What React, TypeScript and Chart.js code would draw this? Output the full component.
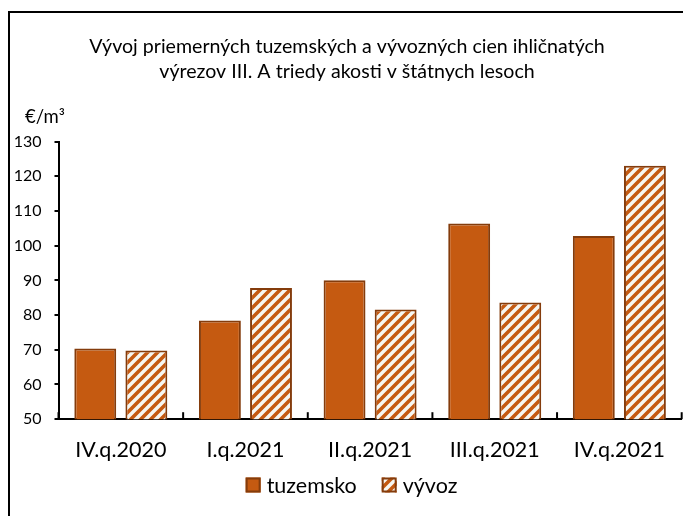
import React, { useEffect, useRef } from "react";
import { Chart, registerables } from "chart.js";

Chart.register(...registerables);

const categories = ["IV.q.2020", "I.q.2021", "II.q.2021", "III.q.2021", "IV.q.2021"];
const tuzemsko = [70.4, 78.4, 90.0, 106.4, 102.8];
const vyvoz = [69.8, 87.8, 81.6, 83.6, 123.0];
const titleLines = [
  "Vývoj priemerných tuzemských a vývozných cien ihličnatých",
  "výrezov III. A triedy akosti v štátnych lesoch",
];
const unitLabel = "€/m³";
const yMin = 50;
const yMax = 130;
const yStep = 10;

const FONT = "Lato, 'Open Sans', sans-serif";
const FILL = "#C55A11";
const EDGE = "#843C0C";

function makePattern(): CanvasPattern | string {
  const P = 10;
  const c = document.createElement("canvas");
  c.width = P;
  c.height = P;
  const g = c.getContext("2d");
  if (!g) return "#fff";
  g.fillStyle = "#F6F7F2";
  g.fillRect(0, 0, P, P);
  g.strokeStyle = FILL;
  g.lineWidth = 3.6;
  g.lineCap = "square";
  g.beginPath();
  g.moveTo(0, P);
  g.lineTo(P, 0);
  g.moveTo(-P / 2, P / 2);
  g.lineTo(P / 2, -P / 2);
  g.moveTo(P / 2, P * 1.5);
  g.lineTo(P * 1.5, P / 2);
  g.stroke();
  const pat = g.createPattern(c, "repeat");
  return pat || "#fff";
}

const extrasPlugin = {
  id: "extras",
  afterDraw(chart: any) {
    const { ctx, chartArea, scales } = chart;
    const x = scales.x;
    const n = categories.length;
    ctx.save();
    // inner x-axis tick marks at category boundaries
    ctx.strokeStyle = "#000";
    ctx.lineWidth = 2;
    for (let i = 0; i <= n; i++) {
      const px = x.left + (i * (x.right - x.left)) / n;
      ctx.beginPath();
      ctx.moveTo(px, chartArea.bottom);
      ctx.lineTo(px, chartArea.bottom - 7);
      ctx.stroke();
    }
    // unit label
    ctx.fillStyle = "#000";
    ctx.font = `18.5px ${FONT}`;
    ctx.textAlign = "left";
    ctx.textBaseline = "alphabetic";
    ctx.fillText(unitLabel, 25, 123);

    // legend
    const box = 15;
    const gapText = 6;
    const gapItem = 25;
    ctx.font = `21.5px ${FONT}`;
    const items = chart.data.datasets.map((d: any) => ({
      label: d.label,
      fill: d.backgroundColor,
      edge: d.borderColor,
      w: ctx.measureText(d.label).width,
    }));
    let total = 0;
    items.forEach((it: any, i: number) => {
      total += box + gapText + it.w + (i < items.length - 1 ? gapItem : 0);
    });
    let cx = 351.5 - total / 2;
    const cy = 485;
    items.forEach((it: any) => {
      ctx.fillStyle = it.fill;
      ctx.fillRect(cx, cy - box / 2, box, box);
      ctx.strokeStyle = it.edge;
      ctx.lineWidth = 2;
      ctx.strokeRect(cx + 1, cy - box / 2 + 1, box - 2, box - 2);
      ctx.fillStyle = "#000";
      ctx.textBaseline = "middle";
      ctx.fillText(it.label, cx + box + gapText, cy + 1);
      cx += box + gapText + it.w + gapItem;
    });
    ctx.restore();
  },
};

export default function App() {
  const ref = useRef<HTMLCanvasElement | null>(null);
  useEffect(() => {
    if (!ref.current) return;
    const pattern = makePattern();
    const chart = new Chart(ref.current, {
      type: "bar",
      data: {
        labels: categories,
        datasets: [
          {
            label: "tuzemsko",
            data: tuzemsko,
            backgroundColor: FILL,
            borderColor: EDGE,
            borderWidth: 2,
            categoryPercentage: 0.82,
            barPercentage: 0.82,
          },
          {
            label: "vývoz",
            data: vyvoz,
            backgroundColor: pattern as any,
            borderColor: EDGE,
            borderWidth: 2,
            categoryPercentage: 0.82,
            barPercentage: 0.82,
          },
        ],
      },
      options: {
        animation: false,
        responsive: false,
        maintainAspectRatio: false,
        layout: { padding: { left: 12, right: 1, top: 10, bottom: 35 } },
        plugins: {
          title: {
            display: true,
            text: titleLines,
            color: "#000",
            font: { family: FONT, size: 19.6, weight: "normal", lineHeight: "25px" },
            padding: { top: 24.5, bottom: 57 },
          },
          legend: { display: false },
          tooltip: { enabled: false },
        },
        scales: {
          x: {
            grid: { display: false, drawTicks: false },
            border: { display: true, color: "#000", width: 2 },
            ticks: { color: "#000", font: { family: FONT, size: 21.5 }, padding: 18 },
          },
          y: {
            min: yMin,
            max: yMax,
            afterFit(scale: any) {
              scale.width = 46.5;
            },
            grid: { display: true, drawOnChartArea: false, drawTicks: true, tickLength: 4, color: "#000", lineWidth: 2 },
            border: { display: true, color: "#000", width: 2 },
            ticks: { color: "#000", font: { family: FONT, size: 16 }, stepSize: yStep, padding: 13 },
          },
        },
      },
      plugins: [extrasPlugin],
    });
    return () => chart.destroy();
  }, []);
  return (
    <div style={{ position: "absolute", left: 0, top: 0, width: 683, height: 516, overflow: "hidden", background: "#fff" }}>
      <canvas ref={ref} width={683} height={516} style={{ position: "absolute", left: 0, top: 0, width: 683, height: 516 }} />
      <div
        style={{
          position: "absolute",
          left: 8,
          top: 11,
          width: 800,
          height: 700,
          borderLeft: "2px solid #000",
          borderTop: "2px solid #000",
          pointerEvents: "none",
        }}
      />
    </div>
  );
}
